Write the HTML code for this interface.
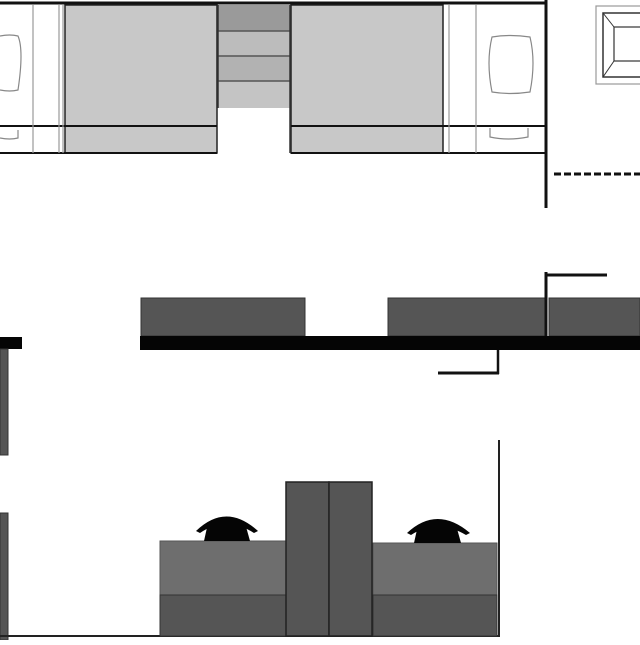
<!DOCTYPE html>
<html><head><style>html,body{margin:0;padding:0;background:#fff}</style></head><body>
<svg width="640" height="640" xmlns="http://www.w3.org/2000/svg">
<rect width="640" height="640" fill="#fff"/>
<!-- top -->
<rect x="65" y="5" width="152" height="148" fill="#c8c8c8" stroke="#222" stroke-width="1.5"/>
<rect x="291" y="5" width="152" height="148" fill="#c8c8c8" stroke="#222" stroke-width="1.5"/>
<rect x="218" y="5" width="72" height="26" fill="#9a9a9a"/>
<rect x="218" y="31" width="72" height="25" fill="#bcbcbc"/>
<rect x="218" y="56" width="72" height="25" fill="#b2b2b2"/>
<rect x="218" y="81" width="72" height="27" fill="#c4c4c4"/>
<g stroke="#555" stroke-width="1.5"><line x1="218" y1="31" x2="290" y2="31"/><line x1="218" y1="56" x2="290" y2="56"/><line x1="218" y1="81" x2="290" y2="81"/></g>
<line x1="218" y1="5" x2="218" y2="108" stroke="#333" stroke-width="1.5"/>
<line x1="290" y1="5" x2="290" y2="153" stroke="#333" stroke-width="1.5"/>
<line x1="0" y1="3" x2="546" y2="3" stroke="#111" stroke-width="3"/>
<line x1="0" y1="126" x2="217" y2="126" stroke="#111" stroke-width="2"/>
<line x1="0" y1="153" x2="217" y2="153" stroke="#111" stroke-width="2"/>
<line x1="291" y1="126" x2="545" y2="126" stroke="#111" stroke-width="2"/>
<line x1="291" y1="153" x2="545" y2="153" stroke="#111" stroke-width="2"/>
<g stroke="#999" stroke-width="1.2"><line x1="33" y1="5" x2="33" y2="153"/><line x1="59" y1="5" x2="59" y2="153"/><line x1="63" y1="5" x2="63" y2="153"/>
<line x1="449" y1="5" x2="449" y2="153"/><line x1="476" y1="5" x2="476" y2="153"/></g>
<g fill="none" stroke="#888" stroke-width="1.2">
<path d="M0 36 Q10 34 18 36 Q24 50 18 90 Q10 92 0 90"/>
<path d="M0 138 Q10 140 18 138 L18 130"/>
<path d="M492 37 Q510 34 530 37 Q536 62 530 92 Q510 95 492 92 Q486 62 492 37Z"/>
<path d="M490 128 L490 137 Q508 141 528 137 L528 128"/>
</g>
<line x1="546" y1="0" x2="546" y2="208" stroke="#111" stroke-width="3"/>
<rect x="596" y="6" width="50" height="78" fill="#fff" stroke="#999" stroke-width="1.2"/>
<rect x="603" y="13" width="40" height="64" fill="none" stroke="#333" stroke-width="1.5"/>
<rect x="614" y="27" width="30" height="34" fill="none" stroke="#333" stroke-width="1.2"/>
<line x1="603" y1="13" x2="614" y2="27" stroke="#333"/><line x1="603" y1="77" x2="614" y2="61" stroke="#333"/>
<line x1="554" y1="174" x2="640" y2="174" stroke="#111" stroke-width="3" stroke-dasharray="7,3"/>
<!-- middle -->
<rect x="141" y="298" width="164" height="38" fill="#555" stroke="#333"/>
<rect x="388" y="298" width="157" height="38" fill="#555" stroke="#333"/>
<rect x="549" y="298" width="91" height="38" fill="#555" stroke="#333"/>
<rect x="140" y="336" width="500" height="14" fill="#050505"/>
<rect x="305" y="338" width="83" height="4" fill="#050505"/>
<line x1="546" y1="272" x2="546" y2="336" stroke="#111" stroke-width="3"/>
<line x1="546" y1="275" x2="607" y2="275" stroke="#111" stroke-width="3"/>
<line x1="498" y1="350" x2="498" y2="374" stroke="#111" stroke-width="2.5"/>
<line x1="438" y1="373" x2="499" y2="373" stroke="#111" stroke-width="3"/>
<rect x="0" y="337" width="22" height="12" fill="#050505"/>
<rect x="0" y="349" width="8" height="106" fill="#555" stroke="#333"/>
<rect x="0" y="513" width="8" height="127" fill="#555" stroke="#333"/>
<!-- bottom -->
<line x1="0" y1="636" x2="500" y2="636" stroke="#222" stroke-width="2"/>
<line x1="499" y1="440" x2="499" y2="637" stroke="#222" stroke-width="2"/>
<rect x="160" y="541" width="126" height="54" fill="#6e6e6e" stroke="#555"/>
<rect x="160" y="595" width="126" height="41" fill="#555" stroke="#333"/>
<rect x="373" y="543" width="124" height="52" fill="#6e6e6e" stroke="#555"/>
<rect x="373" y="595" width="124" height="41" fill="#555" stroke="#333"/>
<rect x="286" y="482" width="43" height="154" fill="#555" stroke="#222" stroke-width="1.5"/>
<rect x="329" y="482" width="43" height="154" fill="#555" stroke="#222" stroke-width="1.5"/>
<g fill="#050505">
<path d="M196 531 Q226 502 258 531 L254 533 Q226 515 200 533Z"/>
<path d="M208 523 L245 523 L250 541 L204 541Z"/>
<path d="M407 533 Q437 505 470 533 L466 535 Q437 518 411 535Z"/>
<path d="M418 525 L456 525 L461 543 L414 543Z"/>
</g>
</svg>
</body></html>
